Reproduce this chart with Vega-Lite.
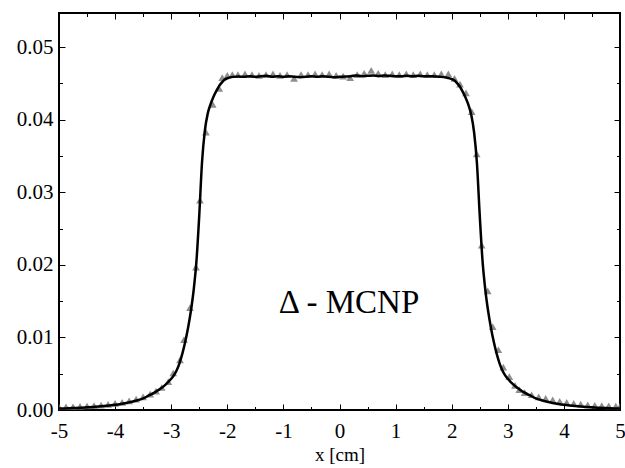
{
  "$schema": "https://vega.github.io/schema/vega-lite/v6.json",
  "width": 561,
  "height": 397,
  "autosize": "none",
  "padding": {"left": 59, "top": 13, "right": 5, "bottom": 58},
  "background": "white",
  "config": {
    "view": {"stroke": "black", "strokeWidth": 2},
    "font": "Liberation Serif",
    "axis": {"domain": false, "grid": false, "labelFont": "Liberation Serif", "titleFont": "Liberation Serif", "labelColor": "black", "tickColor": "black", "tickWidth": 1}
  },
  "datasets": {
    "mc": [
      {"x": -5.0, "y": 0.0004}, {"x": -4.875, "y": 0.00042}, {"x": -4.75, "y": 0.00045}, {"x": -4.625, "y": 0.0005},
      {"x": -4.5, "y": 0.00055}, {"x": -4.375, "y": 0.0006}, {"x": -4.25, "y": 0.00068}, {"x": -4.125, "y": 0.00078},
      {"x": -4.0, "y": 0.0009}, {"x": -3.875, "y": 0.00105}, {"x": -3.75, "y": 0.00125}, {"x": -3.625, "y": 0.0015},
      {"x": -3.5, "y": 0.0018}, {"x": -3.375, "y": 0.0022}, {"x": -3.27, "y": 0.0026}, {"x": -3.169, "y": 0.0031},
      {"x": -3.052, "y": 0.0039}, {"x": -2.963, "y": 0.0051}, {"x": -2.843, "y": 0.0069}, {"x": -2.772, "y": 0.0097},
      {"x": -2.665, "y": 0.0141}, {"x": -2.558, "y": 0.0197}, {"x": -2.487, "y": 0.0289}, {"x": -2.38, "y": 0.0383},
      {"x": -2.26, "y": 0.0421}, {"x": -2.143, "y": 0.0443}, {"x": -2.09, "y": 0.0458}, {"x": -2.0, "y": 0.0461},
      {"x": -1.91, "y": 0.0462}, {"x": -1.81, "y": 0.0462}, {"x": -1.685, "y": 0.0463}, {"x": -1.56, "y": 0.0462},
      {"x": -1.435, "y": 0.0461}, {"x": -1.31, "y": 0.0462}, {"x": -1.185, "y": 0.0463}, {"x": -1.06, "y": 0.0461},
      {"x": -0.935, "y": 0.0462}, {"x": -0.81, "y": 0.0457}, {"x": -0.685, "y": 0.0462}, {"x": -0.56, "y": 0.0462},
      {"x": -0.435, "y": 0.0463}, {"x": -0.31, "y": 0.0462}, {"x": -0.185, "y": 0.0463}, {"x": -0.06, "y": 0.0461},
      {"x": 0.065, "y": 0.046}, {"x": 0.19, "y": 0.0458}, {"x": 0.315, "y": 0.0462}, {"x": 0.44, "y": 0.0464},
      {"x": 0.565, "y": 0.0468}, {"x": 0.69, "y": 0.0464}, {"x": 0.815, "y": 0.0462}, {"x": 0.94, "y": 0.0463},
      {"x": 1.065, "y": 0.0462}, {"x": 1.19, "y": 0.0463}, {"x": 1.315, "y": 0.0462}, {"x": 1.44, "y": 0.0463},
      {"x": 1.565, "y": 0.0462}, {"x": 1.69, "y": 0.0462}, {"x": 1.815, "y": 0.0463}, {"x": 1.94, "y": 0.0463},
      {"x": 2.05, "y": 0.0457}, {"x": 2.148, "y": 0.0449}, {"x": 2.255, "y": 0.0437}, {"x": 2.357, "y": 0.0411},
      {"x": 2.446, "y": 0.0353}, {"x": 2.535, "y": 0.0227}, {"x": 2.642, "y": 0.0164}, {"x": 2.731, "y": 0.0115},
      {"x": 2.831, "y": 0.0083}, {"x": 2.92, "y": 0.0059}, {"x": 3.027, "y": 0.0046}, {"x": 3.128, "y": 0.0034},
      {"x": 3.205, "y": 0.0028}, {"x": 3.3, "y": 0.0024}, {"x": 3.425, "y": 0.0021}, {"x": 3.55, "y": 0.0018},
      {"x": 3.675, "y": 0.0016}, {"x": 3.8, "y": 0.0014}, {"x": 3.925, "y": 0.0012}, {"x": 4.05, "y": 0.00105},
      {"x": 4.175, "y": 0.0009}, {"x": 4.3, "y": 0.0008}, {"x": 4.425, "y": 0.0007}, {"x": 4.55, "y": 0.00064},
      {"x": 4.675, "y": 0.0006}, {"x": 4.8, "y": 0.00056}, {"x": 4.925, "y": 0.00053}, {"x": 5.0, "y": 0.0005}
    ],
    "calc": [
      {"x": -5.0, "y": 0.0002}, {"x": -4.9, "y": 0.00022}, {"x": -4.8, "y": 0.00025}, {"x": -4.7, "y": 0.00028},
      {"x": -4.6, "y": 0.00032}, {"x": -4.5, "y": 0.00037}, {"x": -4.4, "y": 0.00042}, {"x": -4.3, "y": 0.00048},
      {"x": -4.2, "y": 0.00055}, {"x": -4.1, "y": 0.00063}, {"x": -4.0, "y": 0.00072}, {"x": -3.9, "y": 0.00083},
      {"x": -3.8, "y": 0.00097}, {"x": -3.7, "y": 0.00114}, {"x": -3.6, "y": 0.00135}, {"x": -3.5, "y": 0.0016},
      {"x": -3.4, "y": 0.002}, {"x": -3.3, "y": 0.0024}, {"x": -3.2, "y": 0.0029}, {"x": -3.1, "y": 0.0035},
      {"x": -3.0, "y": 0.0043}, {"x": -2.95, "y": 0.0048}, {"x": -2.9, "y": 0.0055}, {"x": -2.85, "y": 0.0065},
      {"x": -2.8, "y": 0.0078}, {"x": -2.75, "y": 0.0094}, {"x": -2.7, "y": 0.0113}, {"x": -2.65, "y": 0.0136},
      {"x": -2.6, "y": 0.0165}, {"x": -2.55, "y": 0.0205}, {"x": -2.5, "y": 0.0268}, {"x": -2.45, "y": 0.0342},
      {"x": -2.4, "y": 0.0385}, {"x": -2.35, "y": 0.0408}, {"x": -2.3, "y": 0.0421}, {"x": -2.25, "y": 0.0431},
      {"x": -2.2, "y": 0.0439}, {"x": -2.15, "y": 0.0446}, {"x": -2.1, "y": 0.0451}, {"x": -2.05, "y": 0.0455},
      {"x": -2.0, "y": 0.0457},
      {"x": -1.9, "y": 0.0459}, {"x": -1.8, "y": 0.04595}, {"x": -1.7, "y": 0.0459}, {"x": -1.6, "y": 0.046},
      {"x": -1.5, "y": 0.0459}, {"x": -1.4, "y": 0.046}, {"x": -1.3, "y": 0.04605}, {"x": -1.2, "y": 0.0459},
      {"x": -1.1, "y": 0.046}, {"x": -1.0, "y": 0.0459}, {"x": -0.9, "y": 0.046}, {"x": -0.8, "y": 0.0459},
      {"x": -0.7, "y": 0.04585}, {"x": -0.6, "y": 0.0459}, {"x": -0.5, "y": 0.046}, {"x": -0.4, "y": 0.0459},
      {"x": -0.3, "y": 0.046}, {"x": -0.2, "y": 0.0459}, {"x": -0.1, "y": 0.04585}, {"x": 0.0, "y": 0.0459},
      {"x": 0.1, "y": 0.04595}, {"x": 0.2, "y": 0.046}, {"x": 0.3, "y": 0.0461}, {"x": 0.4, "y": 0.046},
      {"x": 0.5, "y": 0.04605}, {"x": 0.6, "y": 0.0461}, {"x": 0.7, "y": 0.046}, {"x": 0.8, "y": 0.0461},
      {"x": 0.9, "y": 0.04605}, {"x": 1.0, "y": 0.046}, {"x": 1.1, "y": 0.046}, {"x": 1.2, "y": 0.04605},
      {"x": 1.3, "y": 0.046}, {"x": 1.4, "y": 0.04605}, {"x": 1.5, "y": 0.046}, {"x": 1.6, "y": 0.046},
      {"x": 1.7, "y": 0.04595}, {"x": 1.8, "y": 0.0459}, {"x": 1.9, "y": 0.0458},
      {"x": 2.0, "y": 0.0456}, {"x": 2.05, "y": 0.0454}, {"x": 2.1, "y": 0.045}, {"x": 2.15, "y": 0.0445},
      {"x": 2.2, "y": 0.0438}, {"x": 2.25, "y": 0.043}, {"x": 2.3, "y": 0.042}, {"x": 2.35, "y": 0.0406},
      {"x": 2.4, "y": 0.0382}, {"x": 2.45, "y": 0.034}, {"x": 2.5, "y": 0.0268}, {"x": 2.55, "y": 0.0205},
      {"x": 2.6, "y": 0.0165}, {"x": 2.65, "y": 0.0136}, {"x": 2.7, "y": 0.0113}, {"x": 2.75, "y": 0.0094},
      {"x": 2.8, "y": 0.0078}, {"x": 2.85, "y": 0.0065}, {"x": 2.9, "y": 0.0055}, {"x": 2.95, "y": 0.0048},
      {"x": 3.0, "y": 0.0043}, {"x": 3.1, "y": 0.0035}, {"x": 3.2, "y": 0.0029}, {"x": 3.3, "y": 0.0024},
      {"x": 3.4, "y": 0.002}, {"x": 3.5, "y": 0.0016}, {"x": 3.6, "y": 0.00135}, {"x": 3.7, "y": 0.00114},
      {"x": 3.8, "y": 0.00097}, {"x": 3.9, "y": 0.00083}, {"x": 4.0, "y": 0.00072}, {"x": 4.1, "y": 0.00063},
      {"x": 4.2, "y": 0.00055}, {"x": 4.3, "y": 0.00048}, {"x": 4.4, "y": 0.00042}, {"x": 4.5, "y": 0.00037},
      {"x": 4.6, "y": 0.00032}, {"x": 4.7, "y": 0.00028}, {"x": 4.8, "y": 0.00025}, {"x": 4.9, "y": 0.00022},
      {"x": 5.0, "y": 0.0002}
    ],
    "label": [{"x": 0.17, "y": 0.0147, "label": "Δ - MCNP"}]
  },
  "layer": [
    {
      "data": {"name": "mc"},
      "mark": {"type": "point", "shape": "triangle-up", "filled": true, "color": "#7a7a7a", "opacity": 0.85, "size": 60, "clip": true},
      "encoding": {
        "x": {"field": "x", "type": "quantitative", "scale": {"domain": [-5, 5], "nice": false, "zero": false},
          "axis": {"orient": "bottom", "title": "x [cm]", "titleFontSize": 19, "titleFontWeight": "normal", "titleColor": "black", "titlePadding": 4,
            "values": [-5, -4.5, -4, -3.5, -3, -2.5, -2, -1.5, -1, -0.5, 0, 0.5, 1, 1.5, 2, 2.5, 3, 3.5, 4, 4.5, 5],
            "labelExpr": "datum.value % 1 == 0 ? '' + datum.value : ''",
            "labelFontSize": 21, "labelPadding": 16, "labelFlush": false,
            "tickSize": {"condition": {"test": "datum.value % 1 == 0", "value": -6}, "value": -3.5}}},
        "y": {"field": "y", "type": "quantitative", "scale": {"domain": [0, 0.0547], "nice": false, "zero": false},
          "axis": {"orient": "left", "title": null,
            "values": [0, 0.005, 0.01, 0.015, 0.02, 0.025, 0.03, 0.035, 0.04, 0.045, 0.05],
            "labelExpr": "round(datum.value * 1000) % 10 == 0 ? format(datum.value, '.2f') : ''",
            "labelFontSize": 21, "labelPadding": 12, "labelFlush": false,
            "tickSize": {"condition": {"test": "round(datum.value * 1000) % 10 == 0", "value": -6}, "value": -3.5}}}
      }
    },
    {
      "data": {"name": "calc"},
      "mark": {"type": "line", "color": "black", "strokeWidth": 2.5, "interpolate": "monotone", "clip": true},
      "encoding": {
        "x": {"field": "x", "type": "quantitative",
          "axis": {"orient": "top", "title": null, "labels": false,
            "values": [-5, -4.5, -4, -3.5, -3, -2.5, -2, -1.5, -1, -0.5, 0, 0.5, 1, 1.5, 2, 2.5, 3, 3.5, 4, 4.5, 5],
            "tickSize": {"condition": {"test": "datum.value % 1 == 0", "value": -6}, "value": -3.5}}},
        "y": {"field": "y", "type": "quantitative",
          "axis": {"orient": "right", "title": null, "labels": false,
            "values": [0, 0.005, 0.01, 0.015, 0.02, 0.025, 0.03, 0.035, 0.04, 0.045, 0.05],
            "tickSize": {"condition": {"test": "round(datum.value * 1000) % 10 == 0", "value": -6}, "value": -3.5}}}
      }
    },
    {
      "data": {"name": "label"},
      "mark": {"type": "text", "fontSize": 33, "font": "Liberation Serif", "align": "center", "baseline": "middle", "color": "black"},
      "encoding": {
        "x": {"field": "x", "type": "quantitative", "axis": null},
        "y": {"field": "y", "type": "quantitative", "axis": null},
        "text": {"field": "label"}
      }
    }
  ]
}
